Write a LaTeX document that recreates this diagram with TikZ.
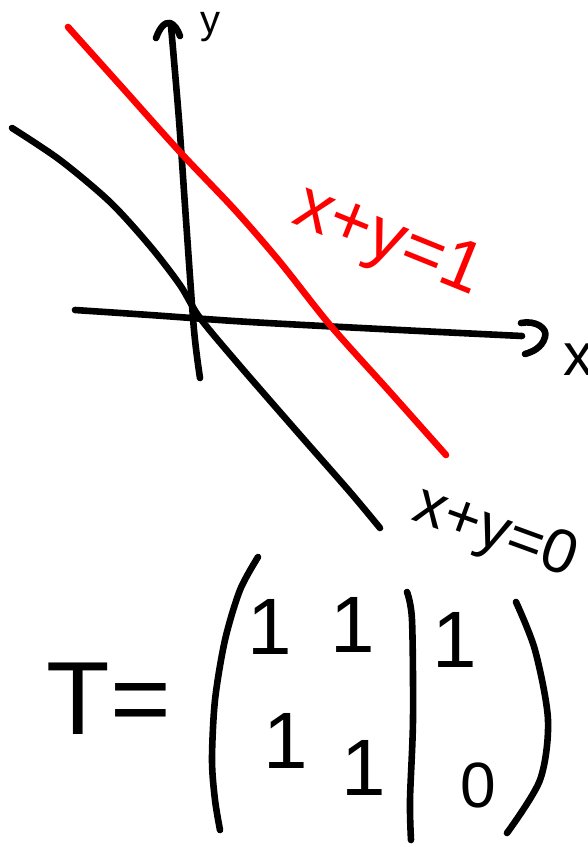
\documentclass[tikz,border=0pt]{standalone}
\usepackage{fontspec}
\setmainfont{Liberation Sans}
\begin{document}
\begin{tikzpicture}[x=0.5pt,y=-0.5pt,
  stroke/.style={line width=3.3pt,line cap=round,line join=round},
  lbl/.style={inner sep=0pt,font=\fontsize{#1}{#1}\selectfont}]
\useasboundingbox (0,0) rectangle (588,847);
\clip (0,0) rectangle (588,847);
% y axis
\draw[stroke] plot[smooth] coordinates {(200,378)(194,330)(186,220)(179,120)(171,26)};
\draw[stroke] (156,38) .. controls (160,27) and (165,22) .. (170,23) .. controls (174,24) and (178,30) .. (180,36);
\node[lbl=20] (ylab) at (210,27) {y};
% x axis
\draw[stroke] plot[smooth] coordinates {(75,310)(150,315)(250,322)(400,330)(522,336)};
\draw[stroke] (521,323) .. controls (535,320) and (548,328) .. (545,337) .. controls (542,348) and (532,352) .. (525,354);
\node[lbl=30] (xlab) at (578,360) {x};
% line x+y=0
\draw[stroke] plot[smooth] coordinates {(12,128)(60,160)(110,202)(150,246)(180,285)(200,318)(240,366)(300,435)(350,492)(380,528)};
% line x+y=1
\draw[stroke,red] plot[smooth] coordinates {(68,27)(120,85)(180,152)(235,210)(280,262)(330,325)(390,392)(446,455)};
\node[lbl=36,text=red,rotate=-22] (l1) at (388,243) {x+y=1};
\node[lbl=31,rotate=-20] (l0) at (495,534) {x+y=0};
% matrix
\node[lbl=52] (T) at (109,699) {T=};
\draw[stroke] plot[smooth] coordinates {(258,557)(240,590)(225,640)(215,700)(212,760)(215,800)(220,830)};
\draw[stroke] plot[smooth] coordinates {(516,602)(535,650)(548,720)(540,780)(507,833)};
\draw[stroke] plot[smooth] coordinates {(407,592)(412,620)(413,720)(410,800)(411,840)};
\node[lbl=40] (a11) at (270,627) {1};
\node[lbl=40] (a12) at (353,625) {1};
\node[lbl=40] (a13) at (455,640) {1};
\node[lbl=40] (a21) at (286,741) {1};
\node[lbl=40] (a22) at (364,768) {1};
\node[lbl=32] (a23) at (478,785) {0};
\end{tikzpicture}
\end{document}
